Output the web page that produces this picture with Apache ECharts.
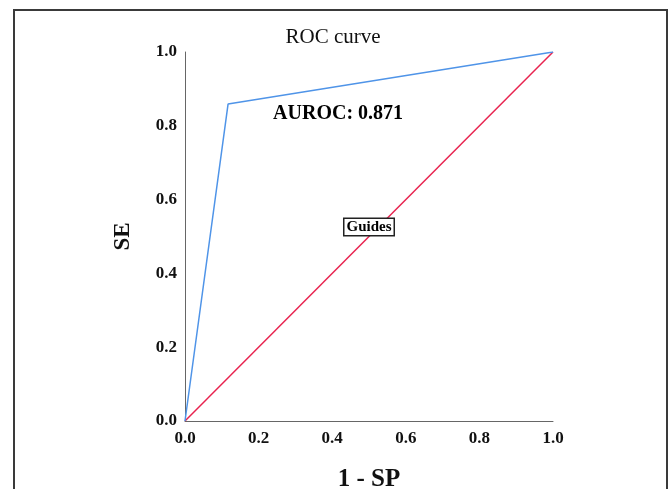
<!DOCTYPE html>
<html>
<head>
<meta charset="utf-8">
<script src="https://cdn.jsdelivr.net/npm/echarts@6/dist/echarts.min.js"></script>
<style>
  html, body { margin: 0; padding: 0; background: #fff; }
  .frame {
    position: absolute;
    left: 13px; top: 9px;
    width: 651px; height: 500px;
    border: 2px solid #3a3a3a;
    border-bottom: none;
  }
  #chart { position: absolute; left: 0; top: 0; width: 669px; height: 489px; }
</style>
</head>
<body>
<div class="frame"></div>
<div id="chart"></div>
<script>
// ROC 曲线数据
const rocFpr = [0, 0.117, 1]
const rocTpr = [0, 0.859, 1]
const guideLine = [[0, 0], [1, 1]]
const axisTicks = [0, 0.2, 0.4, 0.6, 0.8, 1.0]
const aurocText = 'AUROC: 0.871'
const aurocPos = [0.416, 0.832]
const guidesPos = [0.5, 0.526]

const serif = '"Liberation Serif", "DejaVu Serif", serif'

const chart = echarts.init(document.getElementById('chart'))
chart.setOption({
  animation: false,
  title: {
    text: 'ROC curve',
    left: 328,
    textAlign: 'center',
    top: 22,
    textStyle: { fontFamily: serif, fontWeight: 'normal', fontSize: 21, color: '#111' }
  },
  grid: { left: 185, right: 116, top: 52, bottom: 68, outerBoundsMode: 'none' },
  xAxis: {
    type: 'value',
    min: 0, max: 1, interval: 0.2,
    name: '1 - SP',
    nameLocation: 'middle',
    nameGap: 46,
    nameTextStyle: { fontFamily: serif, fontWeight: 'bold', fontSize: 25, color: '#111' },
    axisLine: { show: true, lineStyle: { color: '#666', width: 1 } },
    axisTick: { show: false },
    splitLine: { show: false },
    axisLabel: {
      margin: 9,
      fontFamily: serif, fontWeight: 'bold', fontSize: 17, color: '#111',
      formatter: v => v.toFixed(1)
    }
  },
  yAxis: {
    type: 'value',
    min: 0, max: 1, interval: 0.2,
    name: 'SE',
    nameLocation: 'middle',
    nameGap: 50,
    nameRotate: 90,
    nameTextStyle: { fontFamily: serif, fontWeight: 'bold', fontSize: 23, color: '#111' },
    axisLine: { show: true, lineStyle: { color: '#666', width: 1 } },
    axisTick: { show: false },
    splitLine: { show: false },
    axisLabel: {
      margin: 8,
      fontFamily: serif, fontWeight: 'bold', fontSize: 17, color: '#111',
      formatter: v => v.toFixed(1)
    }
  },
  series: [
    {
      name: 'Guides',
      type: 'line',
      data: guideLine,
      symbol: 'none',
      lineStyle: { color: '#e8234f', width: 1.5 },
      z: 2
    },
    {
      name: 'ROC',
      type: 'line',
      data: rocFpr.map((x, i) => [x, rocTpr[i]]),
      symbol: 'none',
      lineStyle: { color: '#4f94e8', width: 1.5 },
      z: 3
    },
    {
      // 文字标注
      type: 'scatter',
      symbolSize: 0,
      silent: true,
      z: 5,
      itemStyle: { opacity: 1 },
      data: [
        {
          value: aurocPos,
          label: {
            show: true, position: 'inside', formatter: aurocText,
            fontFamily: serif, fontWeight: 'bold', fontSize: 20, color: '#000',
            textBorderWidth: 0
          }
        },
        {
          value: guidesPos,
          label: {
            show: true, position: 'inside', formatter: 'Guides',
            fontFamily: serif, fontWeight: 'bold', fontSize: 15, color: '#000',
            textBorderWidth: 0,
            backgroundColor: '#fff',
            borderColor: '#222', borderWidth: 1.5,
            padding: [1, 2, 0, 2]
          }
        }
      ]
    }
  ]
})
</script>
</body>
</html>
